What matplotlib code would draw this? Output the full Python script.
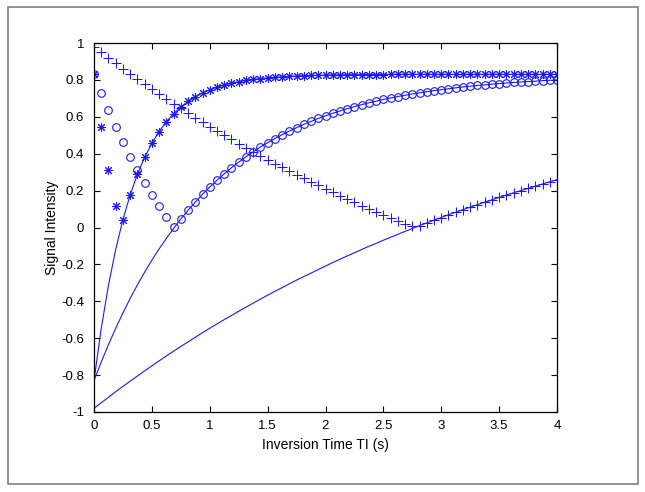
import numpy as np
import matplotlib
matplotlib.use("Agg")
import matplotlib.pyplot as plt
from matplotlib.patches import Rectangle

# Inversion times (s), one sample every 0.0625 s
ti = [k * 0.0625 for k in range(65)]

# Signed signal (lines)
short_t1 = [-0.830, -0.547, -0.313, -0.119, 0.043, 0.177, 0.288, 0.380, 0.457, 0.520,
            0.573, 0.617, 0.653, 0.683, 0.708, 0.729, 0.746, 0.760, 0.772, 0.782,
            0.790, 0.797, 0.803, 0.807, 0.811, 0.814, 0.817, 0.819, 0.821, 0.823,
            0.824, 0.825, 0.826, 0.827, 0.827, 0.828, 0.828, 0.829, 0.829, 0.829,
            0.829, 0.830, 0.830, 0.830, 0.830, 0.830, 0.830, 0.830, 0.830, 0.830,
            0.830, 0.830, 0.830, 0.830, 0.830, 0.830, 0.830, 0.830, 0.830, 0.830,
            0.830, 0.830, 0.830, 0.830, 0.830]
mid_t1 = [-0.830, -0.729, -0.635, -0.546, -0.463, -0.384, -0.311, -0.242, -0.177, -0.116,
          -0.059, -0.005, 0.046, 0.093, 0.138, 0.180, 0.219, 0.256, 0.291, 0.324,
          0.354, 0.383, 0.410, 0.436, 0.460, 0.482, 0.503, 0.523, 0.541, 0.559,
          0.575, 0.591, 0.605, 0.619, 0.632, 0.644, 0.655, 0.666, 0.676, 0.685,
          0.694, 0.702, 0.710, 0.717, 0.724, 0.730, 0.736, 0.742, 0.747, 0.752,
          0.757, 0.762, 0.766, 0.770, 0.773, 0.777, 0.780, 0.783, 0.786, 0.789,
          0.791, 0.793, 0.796, 0.798, 0.800]
long_t1 = [-0.980, -0.950, -0.920, -0.890, -0.861, -0.833, -0.805, -0.777, -0.750, -0.723,
           -0.696, -0.670, -0.645, -0.620, -0.595, -0.570, -0.546, -0.523, -0.499, -0.477,
           -0.454, -0.432, -0.410, -0.388, -0.367, -0.346, -0.326, -0.305, -0.285, -0.266,
           -0.247, -0.228, -0.209, -0.190, -0.172, -0.154, -0.137, -0.119, -0.102, -0.086,
           -0.069, -0.053, -0.037, -0.021, -0.006, 0.010, 0.025, 0.040, 0.054, 0.069,
           0.083, 0.097, 0.110, 0.124, 0.137, 0.150, 0.163, 0.176, 0.188, 0.200,
           0.212, 0.224, 0.236, 0.248, 0.259]

xticks = [0, 0.5, 1, 1.5, 2, 2.5, 3, 3.5, 4]
xticklabels = ["0", "0.5", "1", "1.5", "2", "2.5", "3", "3.5", "4"]
yticks = [-1, -0.8, -0.6, -0.4, -0.2, 0, 0.2, 0.4, 0.6, 0.8, 1]
yticklabels = ["-1", "-0.8", "-0.6", "-0.4", "-0.2", "0", "0.2", "0.4", "0.6", "0.8", "1"]

plt.rcParams['font.family'] = ['Liberation Sans', 'DejaVu Sans']

fig = plt.figure(figsize=(6.45, 4.92), dpi=100)
fig.patch.set_facecolor('white')
fig.add_artist(Rectangle((7.5 / 645, 1 - 484 / 492), 630 / 645, 477 / 492,
                         transform=fig.transFigure, fill=False,
                         edgecolor='#8a8a8a', linewidth=1.3))

ax = fig.add_axes([94 / 645, 1 - 412 / 492, 463 / 645, 369 / 492])
blue = '#1a1aff'
t = np.array(ti)
for series, mk, ms in [(short_t1, (8, 2, 0), 6.5), (mid_t1, 'o', 5.5), (long_t1, '+', 6.5)]:
    s = np.array(series)
    ax.plot(t, s, '-', color=blue, linewidth=0.8)
    if mk == 'o':
        ax.plot(t, np.abs(s), linestyle='none', marker='o', markersize=ms,
                markerfacecolor='none', markeredgecolor=blue, markeredgewidth=0.8)
    else:
        ax.plot(t, np.abs(s), linestyle='none', marker=mk, markersize=ms,
                color=blue, markeredgewidth=0.75)

ax.set_xlim(0, 4)
ax.set_ylim(-1, 1)
ax.set_xticks(xticks)
ax.set_xticklabels(xticklabels)
ax.set_yticks(yticks)
ax.set_yticklabels(yticklabels)
ax.tick_params(direction='in', length=4, width=0.8, top=True, right=True,
               labelsize=9.5)
ax.tick_params(axis='y', pad=7)
ax.tick_params(axis='x', pad=6)
for sp in ax.spines.values():
    sp.set_linewidth(0.9)
    sp.set_color('black')
ax.set_xlabel('Inversion Time TI (s)', fontsize=10, labelpad=4)
ax.set_ylabel('Signal Intensity', fontsize=10, labelpad=2)

fig.savefig('out.png', dpi=100)
